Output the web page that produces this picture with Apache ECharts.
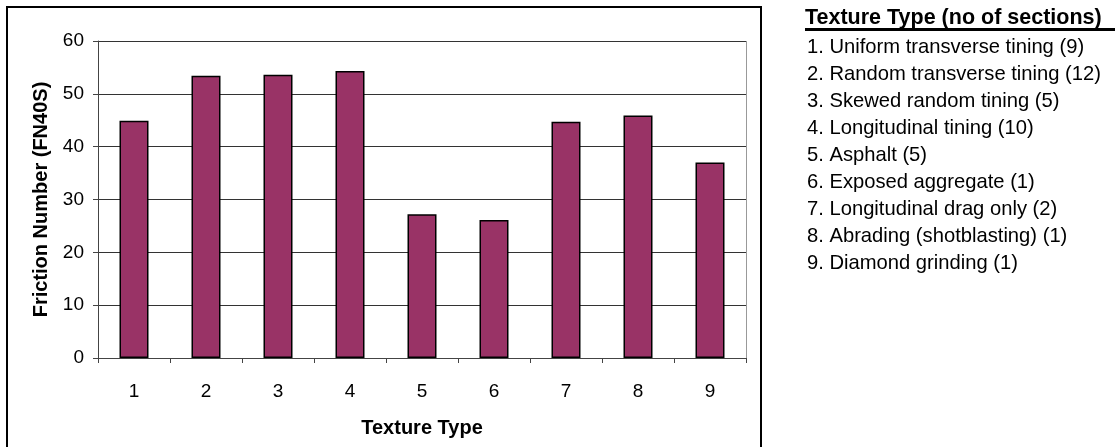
<!DOCTYPE html>
<html>
<head>
<meta charset="utf-8">
<script src="https://cdn.jsdelivr.net/npm/echarts@6/dist/echarts.min.js"></script>
<style>
  html, body { margin: 0; padding: 0; background: #fff; }
  #chart { width: 1118px; height: 447px; }
</style>
</head>
<body>
<div id="chart"></div>
<script>
// data
var categories = ['1', '2', '3', '4', '5', '6', '7', '8', '9']
var friction = [44.9, 53.4, 53.6, 54.3, 27.2, 26.1, 44.7, 45.9, 37.0]
var legendTitle = 'Texture Type (no of sections)'
var legendItems = [
  '1. Uniform transverse tining (9)',
  '2. Random transverse tining (12)',
  '3. Skewed random tining (5)',
  '4. Longitudinal tining (10)',
  '5. Asphalt (5)',
  '6. Exposed aggregate (1)',
  '7. Longitudinal drag only (2)',
  '8. Abrading (shotblasting) (1)',
  '9. Diamond grinding (1)'
]

var font = 'Arial, "Liberation Sans", sans-serif'
var chart = echarts.init(document.getElementById('chart'))

var graphics = [
  {
    type: 'rect',
    shape: { x: 7, y: 7, width: 754, height: 450 },
    style: { fill: 'none', stroke: '#000', lineWidth: 2 },
    silent: true
  },
  {
    type: 'text',
    x: 805,
    y: 18,
    style: { text: legendTitle, font: 'bold 21.5px ' + font, fill: '#000', verticalAlign: 'middle' }
  },
  {
    type: 'line',
    shape: { x1: 805, y1: 29.5, x2: 1115, y2: 29.5 },
    style: { stroke: '#000', lineWidth: 3 }
  }
]
legendItems.forEach(function (t, i) {
  graphics.push({
    type: 'text',
    x: 807,
    y: 47 + i * 27,
    style: { text: t, font: '20.2px ' + font, fill: '#000', verticalAlign: 'middle' }
  })
})

var option = {
  animation: false,
  grid: { left: 98, right: 372, top: 41, bottom: 89, containLabel: false },
  xAxis: {
    type: 'category',
    data: categories,
    name: 'Texture Type',
    nameLocation: 'middle',
    nameGap: 60,
    nameTextStyle: { fontFamily: font, fontWeight: 'bold', fontSize: 20, color: '#000' },
    axisLine: { lineStyle: { color: '#444', width: 1 } },
    axisTick: { show: true, length: 5, inside: false, lineStyle: { color: '#444' } },
    axisLabel: { margin: 24, fontFamily: font, fontSize: 19, color: '#000' },
    splitLine: { show: false }
  },
  yAxis: {
    type: 'value',
    min: 0,
    max: 60,
    interval: 10,
    name: 'Friction Number (FN40S)',
    nameLocation: 'middle',
    nameGap: 46,
    nameTextStyle: { fontFamily: font, fontWeight: 'bold', fontSize: 20, color: '#000' },
    axisLine: { show: true, lineStyle: { color: '#444', width: 1 } },
    axisTick: { show: true, length: 5, lineStyle: { color: '#444' } },
    axisLabel: { margin: 14, fontFamily: font, fontSize: 19, color: '#000' },
    splitLine: { show: true, lineStyle: { color: '#333', width: 1 } }
  },
  series: [
    {
      type: 'bar',
      data: friction,
      barWidth: 29,
      itemStyle: { color: '#993366', borderColor: '#000', borderWidth: 1.5 }
    },
    {
      // right edge of the plot area
      type: 'line',
      data: [],
      markLine: {
        silent: true,
        symbol: 'none',
        label: { show: false },
        lineStyle: { color: '#999', type: 'solid', width: 1 },
        data: [[{ coord: ['9', 0], x: 746 }, { coord: ['9', 60], x: 746 }]]
      }
    }
  ],
  graphic: graphics
}

chart.setOption(option)
</script>
</body>
</html>
